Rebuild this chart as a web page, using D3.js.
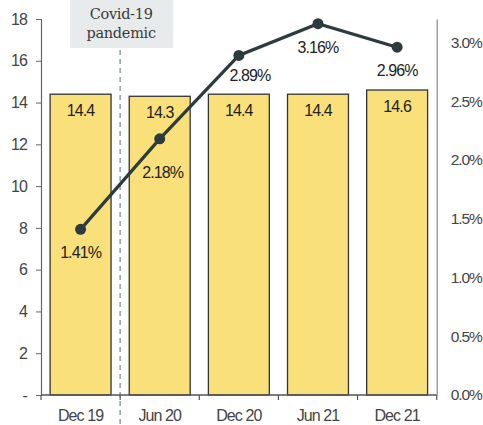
<!DOCTYPE html>
<html><head><meta charset="utf-8">
<script src="https://cdn.jsdelivr.net/npm/d3@7/dist/d3.min.js"></script>
<style>
html,body{margin:0;padding:0;background:#fff;}
svg{display:block;}
</style></head>
<body><svg id="c" width="483" height="425"></svg>
<script>
const categories = ["Dec 19","Jun 20","Dec 20","Jun 21","Dec 21"];
const barValues = [14.4, 14.3, 14.4, 14.4, 14.6];
const lineValues = [1.41, 2.18, 2.89, 3.16, 2.96];
const leftTicks = [0,2,4,6,8,10,12,14,16,18];
const rightTicks = [0,0.5,1.0,1.5,2.0,2.5,3.0];
const annotation = ["Covid-19","pandemic"];

// layout-only label offsets (px) for the percentage labels
const labelDy = [29, 39, 26, 29, 29];
const labelDx = [0, 3, 11, 0, 0];

const svg = d3.select("#c");
const font = '"Liberation Sans","Arial",sans-serif';
const LS = "-0.9px";
const x0 = 41, x1 = 436.7, yTop = 19, yBot = 395;

const x = d3.scaleBand().domain(categories).range([x0, x1]).paddingInner(0.23).paddingOuter(0.115);
const yL = d3.scaleLinear().domain([0,18]).range([yBot, yTop]);
const yR = d3.scaleLinear().domain([0,3.2]).range([yBot, yTop]);

// covid box
const xc = (x0 + (x1-x0)/5);
svg.append("rect").attr("x", xc-50).attr("y",0).attr("width",103).attr("height",48).attr("fill","#e8ebec");
[0,1].forEach(i=>{
  svg.append("text").attr("x", xc+1).attr("y", 19 + i*19).attr("text-anchor","middle")
    .attr("font-family",'"DejaVu Serif","Liberation Serif",serif').attr("font-size",14.5).attr("fill","#3a3a3a")
    .attr("letter-spacing","-0.3px")
    .text(annotation[i]);
});

// bars
svg.selectAll("rect.bar").data(barValues).join("rect").attr("class","bar")
  .attr("x",(d,i)=>x(categories[i])).attr("width",x.bandwidth())
  .attr("y",d=>yL(d)).attr("height",d=>yBot-yL(d))
  .attr("fill","#fae07a").attr("stroke","#333").attr("stroke-width",1.3);

svg.selectAll("text.bv").data(barValues).join("text").attr("class","bv")
  .attr("x",(d,i)=>x(categories[i])+x.bandwidth()/2).attr("y",d=>yL(d)+22)
  .attr("text-anchor","middle").attr("font-family",font).attr("font-size",16).attr("letter-spacing",LS).attr("fill","#222")
  .text(d=>d.toFixed(1));

// dashed line
svg.append("line").attr("x1",xc).attr("x2",xc).attr("y1",50).attr("y2",425)
  .attr("stroke","#8f9ea3").attr("stroke-width",1.5).attr("stroke-dasharray","5,4");

// left axis
const gL = svg.append("g").attr("transform",`translate(${x0},0)`)
  .call(d3.axisLeft(yL).tickValues(leftTicks).tickSize(5).tickPadding(9).tickFormat(d=>d===0?"-":d));
gL.select(".domain").attr("stroke","#666").attr("stroke-width",1.2);
gL.selectAll(".tick line").attr("stroke","#666");
gL.selectAll("text").attr("font-family",font).attr("font-size",16).attr("letter-spacing",LS).attr("fill","#444");

// right axis
const gR = svg.append("g").attr("transform",`translate(${x1},0)`)
  .call(d3.axisRight(yR).tickValues(rightTicks).tickSize(0).tickPadding(14).tickFormat(d=>d.toFixed(1)+"%"));
gR.select(".domain").attr("stroke","#888").attr("stroke-width",1.2);
gR.selectAll("text").attr("font-family",font).attr("font-size",15.5).attr("letter-spacing","-1.1px").attr("fill","#444");

// bottom axis
const xt = d3.scalePoint().domain(d3.range(6)).range([x0,x1]);
svg.append("line").attr("x1",x0).attr("x2",x1).attr("y1",yBot).attr("y2",yBot).attr("stroke","#555").attr("stroke-width",1.5);
svg.selectAll("line.bt").data(d3.range(6)).join("line").attr("class","bt")
  .attr("x1",d=>xt(d)).attr("x2",d=>xt(d)).attr("y1",yBot).attr("y2",yBot+5).attr("stroke","#555").attr("stroke-width",1.2);
svg.selectAll("text.cat").data(categories).join("text").attr("class","cat")
  .attr("x",d=>x(d)+x.bandwidth()/2).attr("y",421)
  .attr("text-anchor","middle").attr("font-family",font).attr("font-size",16).attr("letter-spacing",LS).attr("fill","#444").text(d=>d);

// line
const cx = (d,i)=>x(categories[i])+x.bandwidth()/2;
svg.append("path").datum(lineValues)
  .attr("d", d3.line().x(cx).y(d=>yR(d)))
  .attr("fill","none").attr("stroke","#2c3b3d").attr("stroke-width",3.2);
svg.selectAll("circle.pt").data(lineValues).join("circle").attr("class","pt")
  .attr("cx",cx).attr("cy",d=>yR(d)).attr("r",5.5).attr("fill","#2c3b3d");
svg.selectAll("text.lv").data(lineValues).join("text").attr("class","lv")
  .attr("x",(d,i)=>cx(d,i)+labelDx[i]).attr("y",(d,i)=>yR(d)+labelDy[i])
  .attr("text-anchor","middle").attr("font-family",font).attr("font-size",16).attr("letter-spacing",LS).attr("fill","#222")
  .text(d=>d.toFixed(2)+"%");
</script></body></html>
